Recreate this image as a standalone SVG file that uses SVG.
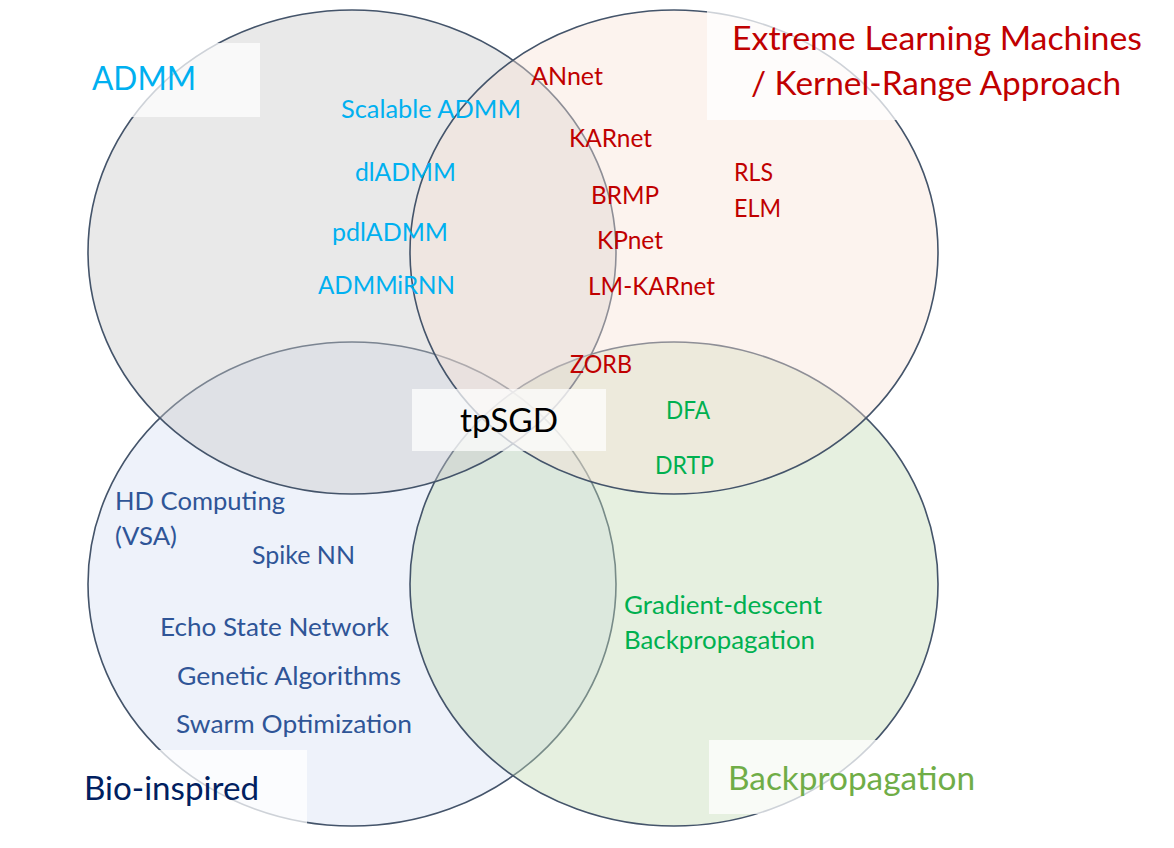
<svg xmlns="http://www.w3.org/2000/svg" width="1174" height="848" viewBox="0 0 1174 848">
<style>
.set{stroke:#44546A;stroke-width:1.6;fill-opacity:0.41}
.box{fill:#FFFFFF;fill-opacity:0.74}
text{font-family:Lato,"Open Sans","Liberation Sans",sans-serif}
.it{font-size:24.5px}
.ti{font-size:33px}
.cy{fill:#00B0F0}
.rd{fill:#C00000}
.gr{fill:#00B050}
.bl{fill:#2F5597}
</style>
<rect width="1174" height="848" fill="#FFFFFF"/>
<g id="set-bio"><ellipse class="set" cx="352" cy="584" rx="264" ry="242" fill="rgb(213,223,243)"/></g>
<g id="set-backprop"><ellipse class="set" cx="674" cy="584" rx="264" ry="242" fill="rgb(194,218,179)"/></g>
<g id="set-admm"><ellipse class="set" cx="352" cy="252" rx="264" ry="242" fill="rgb(201,201,201)"/></g>
<g id="set-elm"><ellipse class="set" cx="674" cy="252" rx="264" ry="242" fill="rgb(248,226,213)"/></g>
<g id="connectors"/>
<g id="title-admm">
<rect class="box" x="80" y="43" width="180" height="74"/>
<text class="ti cy" x="92" y="90" textLength="104" lengthAdjust="spacingAndGlyphs">ADMM</text>
</g>
<g id="title-elm">
<rect class="box" x="707" y="8" width="445" height="112"/>
<text class="ti rd" x="732" y="50" textLength="410" lengthAdjust="spacingAndGlyphs">Extreme Learning Machines</text>
<text class="ti rd" x="751" y="95" textLength="370" lengthAdjust="spacingAndGlyphs">/ Kernel-Range Approach</text>
</g>
<g id="title-bio">
<rect class="box" x="60" y="750" width="247" height="84"/>
<text class="ti" fill="#002060" x="84" y="800" textLength="175" lengthAdjust="spacingAndGlyphs">Bio-inspired</text>
</g>
<g id="title-backprop">
<rect class="box" x="709" y="740" width="280" height="74"/>
<text class="ti" fill="#70AD47" x="728" y="790" textLength="247" lengthAdjust="spacingAndGlyphs">Backpropagation</text>
</g>
<g id="node-tpsgd">
<rect class="box" x="412" y="389" width="194" height="62" style="fill-opacity:0.72"/>
<text class="ti" fill="#000000" x="460" y="432" textLength="98" lengthAdjust="spacingAndGlyphs">tpSGD</text>
</g>
<g id="items-admm">
<text class="it cy" x="341" y="118" textLength="180" lengthAdjust="spacingAndGlyphs">Scalable ADMM</text>
<text class="it cy" x="355" y="181" textLength="101" lengthAdjust="spacingAndGlyphs">dlADMM</text>
<text class="it cy" x="332" y="241" textLength="116" lengthAdjust="spacingAndGlyphs">pdlADMM</text>
<text class="it cy" x="318" y="294" textLength="137" lengthAdjust="spacingAndGlyphs">ADMMiRNN</text>
</g>
<g id="items-elm">
<text class="it rd" x="531" y="85" textLength="72" lengthAdjust="spacingAndGlyphs">ANnet</text>
<text class="it rd" x="569" y="147" textLength="83" lengthAdjust="spacingAndGlyphs">KARnet</text>
<text class="it rd" x="591" y="204" textLength="68" lengthAdjust="spacingAndGlyphs">BRMP</text>
<text class="it rd" x="597" y="249" textLength="66" lengthAdjust="spacingAndGlyphs">KPnet</text>
<text class="it rd" x="588" y="295" textLength="127" lengthAdjust="spacingAndGlyphs">LM-KARnet</text>
<text class="it rd" x="734" y="181" textLength="39" lengthAdjust="spacingAndGlyphs">RLS</text>
<text class="it rd" x="734" y="217" textLength="47" lengthAdjust="spacingAndGlyphs">ELM</text>
<text class="it rd" x="570" y="373" textLength="62" lengthAdjust="spacingAndGlyphs">ZORB</text>
</g>
<g id="items-backprop">
<text class="it gr" x="666" y="419" textLength="44" lengthAdjust="spacingAndGlyphs">DFA</text>
<text class="it gr" x="655" y="474" textLength="59" lengthAdjust="spacingAndGlyphs">DRTP</text>
<text class="it gr" x="624" y="614" textLength="198" lengthAdjust="spacingAndGlyphs">Gradient-descent</text>
<text class="it gr" x="624" y="649" textLength="191" lengthAdjust="spacingAndGlyphs">Backpropagation</text>
</g>
<g id="items-bio">
<text class="it bl" x="115" y="510" textLength="170" lengthAdjust="spacingAndGlyphs">HD Computing</text>
<text class="it bl" x="115" y="545" textLength="62" lengthAdjust="spacingAndGlyphs">(VSA)</text>
<text class="it bl" x="252" y="564" textLength="103" lengthAdjust="spacingAndGlyphs">Spike NN</text>
<text class="it bl" x="160" y="636" textLength="229" lengthAdjust="spacingAndGlyphs">Echo State Network</text>
<text class="it bl" x="177" y="685" textLength="224" lengthAdjust="spacingAndGlyphs">Genetic Algorithms</text>
<text class="it bl" x="176" y="733" textLength="236" lengthAdjust="spacingAndGlyphs">Swarm Optimization</text>
</g>
</svg>
